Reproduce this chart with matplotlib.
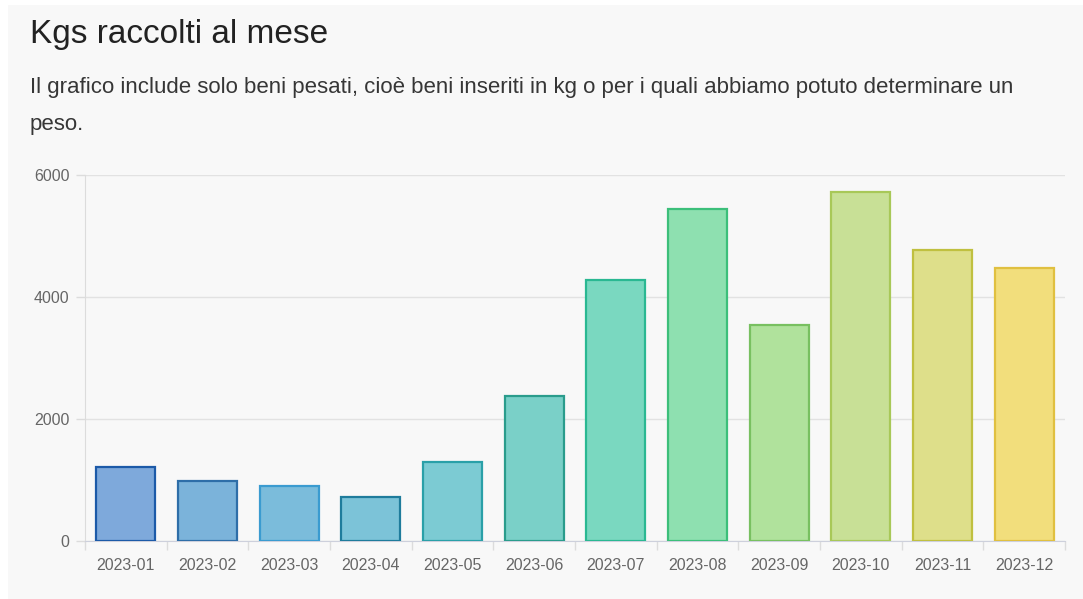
import numpy as np
import matplotlib
matplotlib.use("Agg")
import matplotlib.pyplot as plt
from matplotlib.patches import Rectangle
from matplotlib.ticker import FixedLocator

plt.rcParams['font.family'] = ['Liberation Sans', 'DejaVu Sans']

# monthly collected weight (kg)
months = ['2023-01', '2023-02', '2023-03', '2023-04', '2023-05', '2023-06',
          '2023-07', '2023-08', '2023-09', '2023-10', '2023-11', '2023-12']
kgs = [1219, 989, 907, 727, 1291, 2380, 4271, 5450, 3545, 5722, 4775, 4468]

fill_colors = ['#7ea9db', '#7bb3da', '#7bbcdb', '#7cc3d8', '#7ccbd3', '#7ad0c8',
               '#7ad8c0', '#8ee0b0', '#b0e29c', '#c8e096', '#dedf8a', '#f2de7c']
edge_colors = ['#1c5aa8', '#2e6ea8', '#3a9bd0', '#1f7c9c', '#2aa0a8', '#2a9c8c',
               '#2ab892', '#3cbf7a', '#78c060', '#a8c858', '#c0c040', '#e0c040']

W, H = 1083, 599
fig = plt.figure(figsize=(W / 100, H / 100), dpi=100, facecolor='white')

# light panel behind everything
fig.patches.append(Rectangle((8 / W, 0), 1 - 8 / W, 1 - 5 / H,
                             transform=fig.transFigure, facecolor='#f8f8f8',
                             edgecolor='none', zorder=-10))

fig.text(30 / W, 1 - 35 / H, 'Kgs raccolti al mese', fontsize=24,
         color='#222222', va='center', ha='left')
fig.text(30 / W, 1 - 88 / H,
         'Il grafico include solo beni pesati, cioè beni inseriti in kg o per i quali abbiamo potuto determinare un',
         fontsize=16.05, color='#363636', va='center', ha='left')
fig.text(30 / W, 1 - 124 / H, 'peso.', fontsize=16.05, color='#363636',
         va='center', ha='left')

left, right, bottom, top = 85, 1065, 541, 175
ax = fig.add_axes([left / W, 1 - bottom / H, (right - left) / W, (bottom - top) / H])
ax.set_facecolor('none')

x = np.arange(len(months))
ax.bar(x, kgs, width=0.72, color=fill_colors, edgecolor=edge_colors,
       linewidth=1.6, zorder=3)

ax.set_xlim(-0.5, len(months) - 0.5)
ax.set_ylim(0, 6000)
ax.set_yticks([0, 2000, 4000, 6000])
ax.set_xticks(x)
ax.set_xticklabels(months)
ax.xaxis.set_minor_locator(FixedLocator(np.arange(-0.5, len(months), 1.0)))

ax.grid(axis='y', color='#e2e2e2', linewidth=1, zorder=0)
for side in ['top', 'right']:
    ax.spines[side].set_visible(False)
ax.spines['left'].set_color('#dcdcdc')
ax.spines['bottom'].set_color('#cdd0dc')

ax.tick_params(axis='y', length=6.5, width=1, color='#dcdcdc', pad=4.5,
               labelsize=11.5, labelcolor='#666666')
ax.tick_params(axis='x', which='major', length=0, pad=12.5,
               labelsize=11.5, labelcolor='#666666')
ax.tick_params(axis='x', which='minor', length=6.5, width=1, color='#dcdcdc')

fig.savefig('out.png', dpi=100, facecolor=fig.get_facecolor())
